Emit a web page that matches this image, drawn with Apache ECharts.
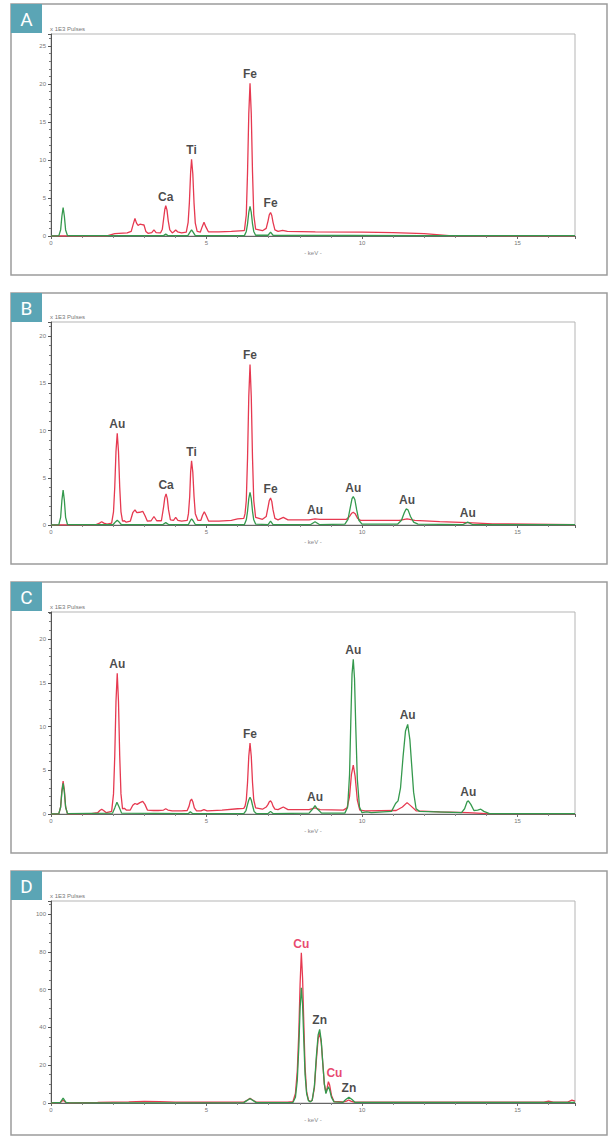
<!DOCTYPE html>
<html><head><meta charset="utf-8">
<script src="https://cdn.jsdelivr.net/npm/echarts@6/dist/echarts.min.js"></script>
<style>html,body{margin:0;padding:0;background:#fff}#c{width:610px;height:1137px}</style>
</head><body><div id="c"></div>
<script>
// ---------- DATA (keV, counts in x 1E3 pulses) ----------
const panelLetters = ['A', 'B', 'C', 'D'];
const xAxisName = '- keV -';
const yAxisName = 'x 1E3 Pulses';
const yMaxes = [26.6, 21.5, 23.1, 106.9];
const yIntervals = [5, 5, 5, 20];
const xMax = 16.85;

const redA = [[0,0],[1.8,0.02],[2.05,0.3],[2.45,0.4],
 [2.58,0.6],[2.64,1.5],[2.70,2.3],[2.75,1.7],[2.80,1.4],[2.86,1.55],[2.93,1.5],[2.99,1.45],[3.05,0.6],[3.12,0.35],
 [3.24,0.45],[3.31,0.8],[3.38,0.45],
 [3.52,0.4],[3.58,0.9],[3.62,2.2],[3.66,3.5],[3.69,4.0],[3.73,3.4],[3.77,2.0],[3.82,0.8],[3.9,0.4],
 [3.96,0.6],[4.01,0.8],[4.07,0.55],[4.2,0.4],
 [4.35,0.5],[4.41,1.8],[4.45,4.4],[4.49,8.4],[4.52,10.1],[4.56,8.2],[4.60,4.3],[4.64,1.7],[4.70,0.6],
 [4.8,0.5],[4.86,1.2],[4.92,1.8],[4.98,1.2],[5.06,0.55],
 [5.4,0.55],[5.8,0.6],[6.2,0.7],
 [6.22,0.75],[6.28,2.8],[6.32,8.4],[6.36,16.1],[6.40,20.1],[6.44,16.1],[6.48,8.4],[6.52,2.8],[6.58,0.9],
 [6.8,0.7],[6.92,1.0],[6.98,2.0],[7.02,2.8],[7.06,3.1],[7.10,2.7],[7.14,1.8],[7.2,0.8],
 [7.3,0.6],[7.45,0.75],[7.6,0.6],
 [8.5,0.55],[10,0.5],[11,0.45],[12,0.3],[12.8,0.05],[16.85,0.02]];
const greenA = [[0,0],[0.25,0.02],[0.31,0.8],[0.35,2.6],[0.39,3.75],[0.43,2.6],[0.47,0.8],[0.53,0.05],
 [3.62,0.05],[3.69,0.25],[3.76,0.05],
 [4.40,0.05],[4.47,0.5],[4.52,0.8],[4.57,0.5],[4.64,0.05],
 [6.22,0.05],[6.28,0.6],[6.32,1.6],[6.36,3.1],[6.40,3.9],[6.44,3.1],[6.48,1.6],[6.52,0.6],[6.58,0.1],
 [6.98,0.1],[7.06,0.5],[7.14,0.1],[12,0.05],[16.85,0.05]];
const labelsA = [['Ca',3.69,4.0],['Ti',4.52,10.1],['Fe',6.40,20.1],['Fe',7.06,3.1]];

const redB = [[0,0],[1.45,0.05],[1.56,0.2],[1.63,0.35],[1.70,0.2],[1.8,0.1],
 [1.95,0.2],[2.01,1.4],[2.05,4.0],[2.09,7.8],[2.13,9.7],[2.17,7.8],[2.21,4.0],[2.25,1.4],[2.3,0.4],[2.36,0.45],[2.42,0.3],
 [2.55,0.4],[2.63,1.3],[2.70,1.6],[2.76,1.3],[2.85,1.35],[2.95,1.45],[3.02,1.0],[3.1,0.4],
 [3.22,0.45],[3.31,0.9],[3.40,0.45],
 [3.55,0.45],[3.62,1.9],[3.66,2.9],[3.70,3.3],[3.74,2.8],[3.78,1.6],[3.84,0.55],
 [3.94,0.5],[4.01,0.8],[4.08,0.5],[4.2,0.4],
 [4.38,0.5],[4.42,1.2],[4.46,3.0],[4.49,5.6],[4.52,6.8],[4.56,5.6],[4.60,3.0],[4.64,1.2],[4.72,0.5],
 [4.82,0.5],[4.87,1.0],[4.93,1.4],[4.99,1.0],[5.07,0.4],
 [5.4,0.4],[5.8,0.5],[6.0,0.65],[6.2,0.7],
 [6.24,1.2],[6.28,2.6],[6.32,7.1],[6.36,13.6],[6.40,17.0],[6.44,13.6],[6.48,7.1],[6.52,2.6],[6.58,0.8],
 [6.8,0.6],[6.92,0.9],[6.98,1.9],[7.02,2.6],[7.06,2.85],[7.10,2.5],[7.14,1.6],[7.2,0.7],
 [7.3,0.55],[7.47,0.8],[7.62,0.55],
 [8.3,0.55],[8.49,0.65],[8.65,0.6],
 [9.5,0.6],[9.6,0.9],[9.67,1.25],[9.72,1.35],[9.78,1.2],[9.86,0.7],[9.95,0.5],
 [11.2,0.5],[11.45,0.65],[11.7,0.5],
 [12.5,0.35],[13.4,0.25],[14.2,0.12],[16.85,0.05]];
const greenB = [[0,0],[0.25,0.02],[0.31,0.8],[0.35,2.6],[0.39,3.7],[0.43,2.6],[0.47,0.8],[0.53,0.05],
 [2.0,0.05],[2.08,0.35],[2.13,0.5],[2.18,0.35],[2.26,0.05],
 [3.6,0.05],[3.69,0.25],[3.78,0.05],
 [4.42,0.05],[4.48,0.45],[4.52,0.65],[4.57,0.45],[4.64,0.05],
 [6.22,0.05],[6.28,0.55],[6.32,1.45],[6.36,2.8],[6.40,3.45],[6.44,2.8],[6.48,1.45],[6.52,0.55],[6.58,0.1],
 [6.98,0.05],[7.06,0.4],[7.14,0.05],
 [8.35,0.05],[8.49,0.35],[8.63,0.05],
 [9.45,0.1],[9.55,0.6],[9.62,1.8],[9.68,2.8],[9.72,3.0],[9.77,2.7],[9.83,1.6],[9.9,0.5],[10.0,0.1],
 [11.15,0.1],[11.27,0.5],[11.36,1.3],[11.42,1.7],[11.48,1.6],[11.56,0.9],[11.66,0.3],[11.8,0.1],
 [13.25,0.05],[13.4,0.3],[13.55,0.05],[16.85,0.05]];
const labelsB = [['Au',2.13,9.7],['Ca',3.70,3.3],['Ti',4.52,6.8],['Fe',6.40,17.0],['Fe',7.06,2.85],
 ['Au',8.49,0.65],['Au',9.72,3.0],['Au',11.45,1.7],['Au',13.4,0.3]];

const redC = [[0,0],[0.25,0.02],[0.31,0.8],[0.35,2.7],[0.39,3.75],[0.43,2.7],[0.47,0.8],[0.53,0.02],
 [1.3,0.05],[1.5,0.15],[1.57,0.4],[1.63,0.55],[1.69,0.4],[1.78,0.15],
 [1.95,0.3],[2.01,2.3],[2.05,6.6],[2.09,12.9],[2.13,16.1],[2.17,12.9],[2.21,6.6],[2.25,2.3],[2.3,0.6],[2.36,0.65],[2.42,0.45],
 [2.55,0.45],[2.63,1.0],[2.70,1.2],[2.77,1.1],[2.86,1.3],[2.95,1.45],[3.02,1.1],[3.1,0.45],
 [3.3,0.4],[3.45,0.4],[3.62,0.45],[3.69,0.6],[3.76,0.45],[3.9,0.35],
 [4.2,0.35],[4.38,0.4],[4.44,0.9],[4.48,1.5],[4.52,1.7],[4.56,1.4],[4.61,0.7],[4.68,0.35],
 [4.82,0.35],[4.92,0.5],[5.02,0.35],
 [5.5,0.45],[6.0,0.6],[6.2,0.65],
 [6.24,0.9],[6.28,1.6],[6.32,3.6],[6.36,6.6],[6.40,8.1],[6.44,6.6],[6.48,3.6],[6.52,1.6],[6.58,0.7],
 [6.8,0.55],[6.92,0.8],[6.98,1.1],[7.02,1.4],[7.06,1.5],[7.10,1.3],[7.14,0.9],[7.2,0.55],
 [7.3,0.5],[7.47,0.8],[7.62,0.5],
 [8.3,0.5],[8.49,0.7],[8.65,0.5],
 [9.4,0.45],[9.52,0.7],[9.6,2.0],[9.66,4.5],[9.72,5.6],[9.78,4.3],[9.85,1.6],[9.93,0.45],
 [10.1,0.35],[11.1,0.4],[11.3,0.8],[11.45,1.3],[11.58,0.9],[11.75,0.35],
 [12.5,0.25],[13.4,0.15],[14.0,0.05],[16.85,0.05]];
const greenC = [[0,0],[0.25,0.02],[0.31,0.8],[0.35,2.5],[0.39,3.5],[0.43,2.5],[0.47,0.8],[0.53,0.05],
 [1.98,0.1],[2.05,0.7],[2.12,1.35],[2.19,0.8],[2.27,0.1],
 [4.42,0.05],[4.48,0.25],[4.55,0.05],
 [6.2,0.05],[6.27,0.4],[6.32,1.1],[6.36,1.6],[6.40,1.9],[6.44,1.6],[6.48,1.0],[6.53,0.3],[6.6,0.05],
 [6.98,0.05],[7.06,0.3],[7.14,0.05],
 [8.3,0.1],[8.42,0.6],[8.49,0.95],[8.56,0.6],[8.7,0.1],
 [9.45,0.1],[9.54,0.8],[9.6,4.5],[9.64,10.5],[9.68,16],[9.72,17.7],[9.76,15.5],[9.8,10],[9.85,4],[9.92,0.8],[10.0,0.15],
 [10.15,0.25],[10.3,0.15],
 [10.95,0.3],[11.08,1.2],[11.16,1.5],[11.24,3.0],[11.32,6.5],[11.40,9.5],[11.47,10.25],[11.54,8.5],[11.6,5.5],[11.66,2.5],[11.74,0.6],[11.85,0.3],
 [13.2,0.15],[13.3,0.6],[13.38,1.4],[13.42,1.5],[13.5,1.1],[13.6,0.4],[13.72,0.45],[13.82,0.55],[13.92,0.3],[14.1,0.05],[16.85,0.05]];
const labelsC = [['Au',2.13,16.1],['Fe',6.40,8.1],['Au',8.49,0.95],['Au',9.72,17.7],['Au',11.47,10.25],['Au',13.42,1.5]];

const redD = [[0,0],[0.3,0.3],[0.39,1.5],[0.48,0.3],[0.6,0.1],
 [1.5,0.3],[2.5,0.6],[3.0,0.9],[3.5,0.7],[4.0,0.5],[5.0,0.4],
 [6.2,0.5],[6.32,1.6],[6.40,2.5],[6.48,1.6],[6.6,0.5],
 [7.0,0.4],[7.6,0.5],
 [7.78,0.7],[7.86,5],[7.92,17],[7.97,38],[8.01,63],[8.05,79.5],[8.09,66],[8.13,42],[8.17,19],[8.22,6],[8.28,1.5],[8.34,0.8],
 [8.40,1.5],[8.47,8],[8.53,22],[8.59,34],[8.64,37],[8.69,32],[8.74,21],[8.79,10],[8.84,5.5],[8.88,8],[8.92,11.3],[8.96,9.5],[9.02,4],[9.1,0.8],
 [9.4,0.6],[9.5,1.0],[9.57,1.6],[9.64,1.0],[9.75,0.5],
 [12,0.4],[15.85,0.4],[16.0,1.0],[16.15,0.4],[16.6,0.4],[16.75,1.5],[16.85,1.0]];
const greenD = [[0,0],[0.3,0.3],[0.39,2.6],[0.48,0.3],[0.6,0.1],
 [6.2,0.2],[6.32,1.5],[6.40,2.4],[6.48,1.5],[6.6,0.2],
 [7.78,0.3],[7.86,3],[7.92,12],[7.97,30],[8.01,50],[8.05,61],[8.09,52],[8.13,33],[8.17,15],[8.22,5],[8.28,1.2],[8.34,0.6],
 [8.40,1.5],[8.47,9],[8.53,24],[8.59,36],[8.64,39],[8.69,33],[8.74,21],[8.79,10],[8.84,5.0],[8.88,7],[8.92,8.6],[8.96,7],[9.02,3],[9.1,0.6],
 [9.38,0.3],[9.48,1.8],[9.58,3.0],[9.68,1.8],[9.78,0.3],
 [16.85,0.3]];
const labelsD = [['Cu',8.05,79.5,'red'],['Zn',8.64,39],['Cu',8.92,11.3,'red',6],['Zn',9.58,3.0]];

const reds = [redA, redB, redC, redD];
const greens = [greenA, greenB, greenC, greenD];
const labelSets = [labelsA, labelsB, labelsC, labelsD];

// ---------- LAYOUT / STYLE ----------
const RED = '#e63950', GREEN = '#35994d', TEAL = '#5ba5b5';
const boxes = [[11,4,596,271],[11,293,596,271],[11,582,596,271],[11,871,596,264]];
const gridTops = [34, 322, 612, 901];
const gridHeights = [202, 203, 202, 202];
const yMinorSplits = [5, 5, 5, 4];

const grids = [], xAxes = [], yAxes = [], series = [], graphics = [];
for (let i = 0; i < 4; i++) {
  grids.push({left: 51, right: 35, top: gridTops[i], height: gridHeights[i], show: true,
    borderColor: '#b5b5b5', borderWidth: 1, backgroundColor: 'transparent'});
  xAxes.push({gridIndex: i, type: 'value', min: 0, max: xMax, interval: 5,
    name: xAxisName, nameLocation: 'middle', nameGap: 14,
    nameTextStyle: {fontSize: 6, color: '#888', fontFamily: 'Liberation Sans'},
    axisLine: {lineStyle: {color: '#666', width: 1}},
    axisTick: {show: true, length: 3, lineStyle: {color: '#666'}},
    minorTick: {show: true, splitNumber: 5, length: 2, lineStyle: {color: '#888'}},
    axisLabel: {fontSize: 6, color: '#777', margin: 4, showMaxLabel: false, fontFamily: 'Liberation Sans'},
    splitLine: {show: false}});
  yAxes.push({gridIndex: i, type: 'value', min: 0, max: yMaxes[i], interval: yIntervals[i],
    name: yAxisName, nameLocation: 'end', nameGap: 2,
    nameTextStyle: {fontSize: 6, color: '#777', align: 'left', padding: [0,0,0,-1], fontFamily: 'Liberation Sans'},
    axisLine: {show: true, lineStyle: {color: '#555', width: 1}},
    axisTick: {show: true, length: 3, lineStyle: {color: '#555'}},
    minorTick: {show: true, splitNumber: yMinorSplits[i], length: 2, lineStyle: {color: '#777'}},
    axisLabel: {fontSize: 6, color: '#777', margin: 5, showMaxLabel: false, fontFamily: 'Liberation Sans'},
    splitLine: {show: false}});
  series.push({type: 'line', xAxisIndex: i, yAxisIndex: i, data: reds[i], showSymbol: false,
    lineStyle: {color: RED, width: 1.3}, z: 3, animation: false});
  series.push({type: 'line', xAxisIndex: i, yAxisIndex: i, data: greens[i], showSymbol: false,
    lineStyle: {color: GREEN, width: 1.3}, z: 4, animation: false});
  series.push({type: 'scatter', xAxisIndex: i, yAxisIndex: i, symbolSize: 0, z: 5, animation: false,
    data: labelSets[i].map(l => ({name: l[0], value: [l[1], l[2]],
      label: {color: l[3] === 'red' ? '#e2174a' : '#1a1a1a', offset: [l[4] || 0, 0]}})),
    label: {show: true, position: 'top', distance: 3, formatter: '{b}',
      fontSize: 12, fontWeight: 'bold', fontFamily: 'Liberation Sans'}});
  const b = boxes[i];
  graphics.push({type: 'rect', shape: {x: b[0], y: b[1], width: b[2], height: b[3]},
    style: {fill: 'none', stroke: '#9c9c9c', lineWidth: 1.5}, z: 1});
  graphics.push({type: 'rect', shape: {x: b[0], y: b[1], width: 31, height: 29},
    style: {fill: TEAL}, z: 2});
  graphics.push({type: 'text', x: b[0] + 15.5, y: b[1] + 15,
    style: {text: panelLetters[i], fill: '#fff', font: '19px Roboto', align: 'center', verticalAlign: 'middle'}, z: 3});
}

const chart = echarts.init(document.getElementById('c'), null, {renderer: 'svg'});
chart.setOption({animation: false, backgroundColor: '#fff', grid: grids, xAxis: xAxes, yAxis: yAxes,
  series: series, graphic: graphics});
</script></body></html>
